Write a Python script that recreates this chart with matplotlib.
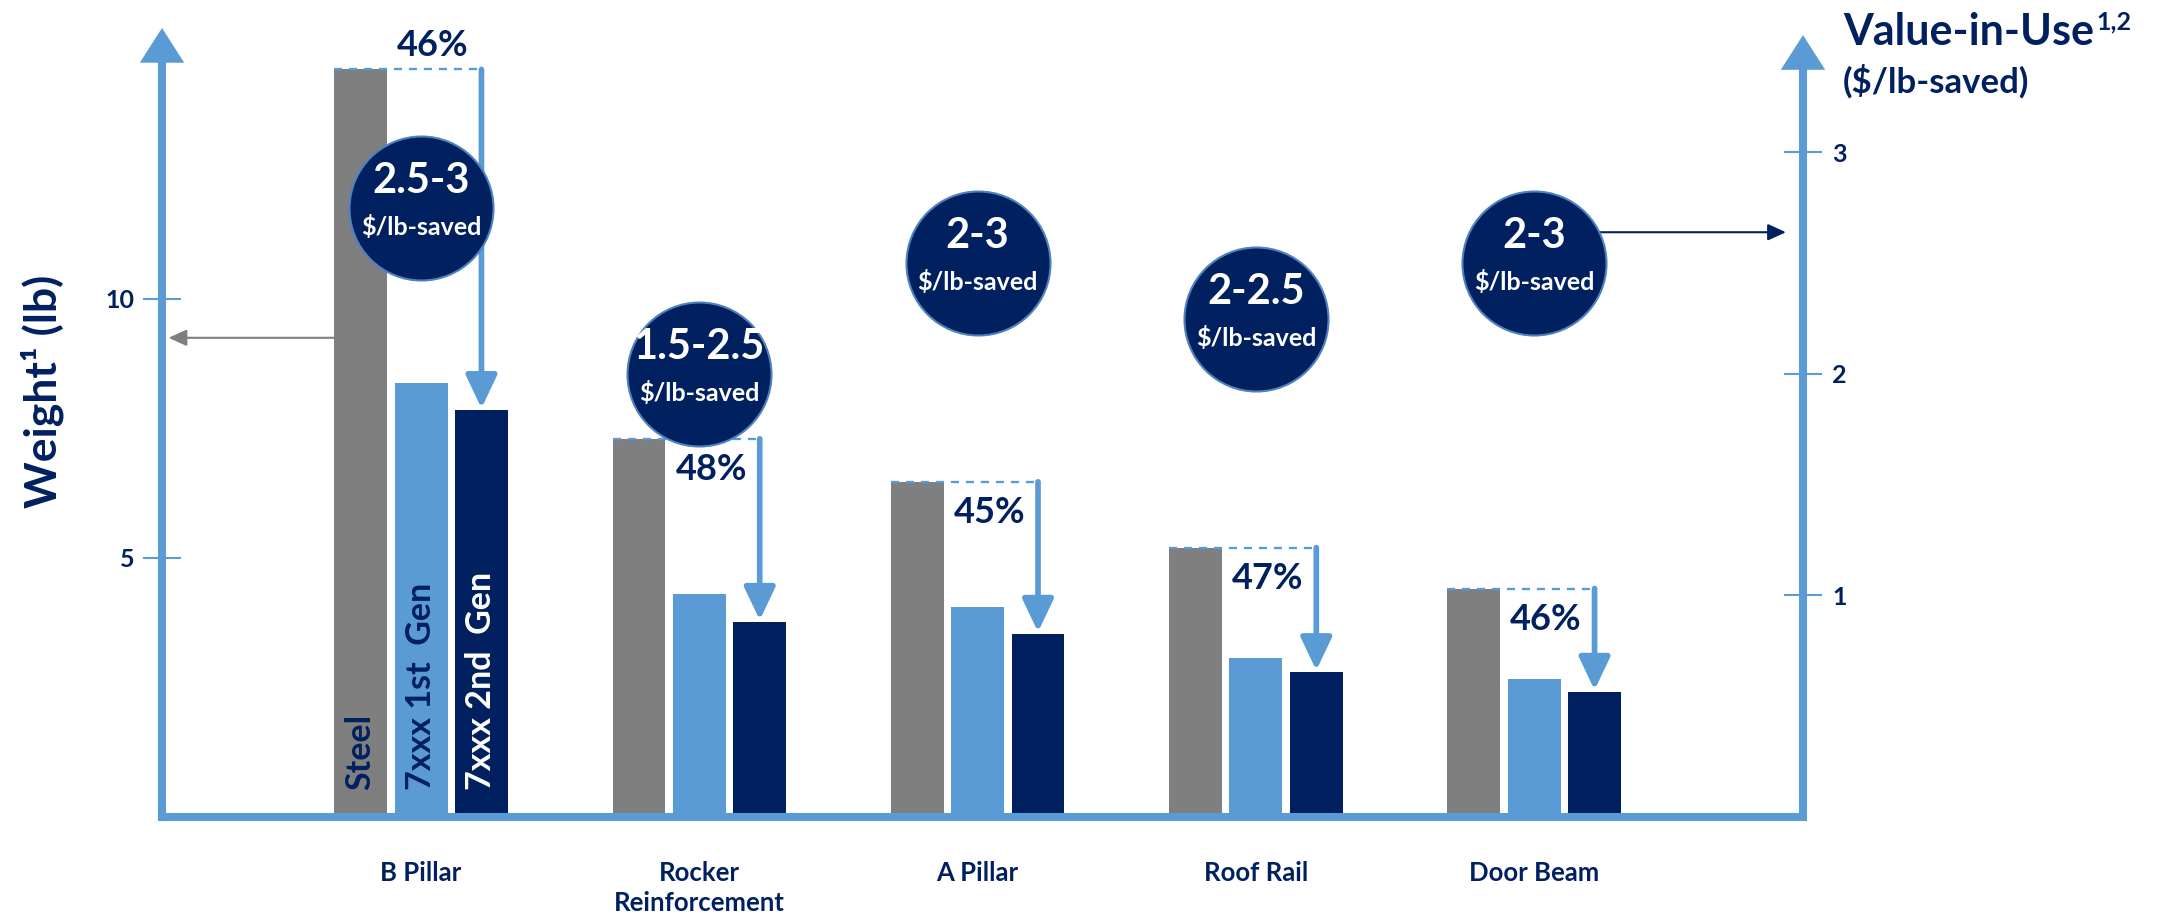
import numpy as np
import matplotlib
matplotlib.use("Agg")
import matplotlib.pyplot as plt

# fonts: Lato bold as stand-in for Calibri bold
plt.rcParams['font.family'] = ['Lato', 'DejaVu Sans']
plt.rcParams['font.weight'] = 'bold'

# data
parts = ["B Pillar", "Rocker\nReinforcement", "A Pillar", "Roof Rail", "Door Beam"]
steel = [14.43, 7.30, 6.47, 5.20, 4.41]
gen1 = [8.38, 4.30, 4.05, 3.06, 2.66]
gen2 = [7.85, 3.76, 3.53, 2.79, 2.41]
savings = ["46%", "48%", "45%", "47%", "46%"]
viu_low = [2.5, 1.5, 2, 2, 2]
viu_high = [3, 2.5, 3, 2.5, 3]
series_names = ["Steel", "7xxx 1st  Gen", "7xxx 2nd  Gen"]
label_above = [True, False, False, False, False]

GRAY = '#7F7F7F'
LBLUE = '#5B9BD5'
NAVY = '#002060'

W, H = 2174, 918
fig = plt.figure(figsize=(W / 100, H / 100), dpi=100)
ax = fig.add_axes([162 / W, 1 - 817 / H, (1803 - 162) / W, (817 - 28) / H])
ax2 = ax.twinx()

ax.set_xlim(-0.931, 4.966)
ax.set_ylim(0, 15.23)
ax2.set_ylim(0, 3.562)

x = np.arange(len(parts))
w = 0.19
off = 0.217

# bars
ax.bar(x - off, steel, w, color=GRAY, zorder=2)
ax.bar(x, gen1, w, color=LBLUE, zorder=2)
ax.bar(x + off, gen2, w, color=NAVY, zorder=2)

# spines / axes look
for s in ['top', 'right']:
    ax.spines[s].set_visible(False)
for s in ['top', 'left', 'bottom']:
    ax2.spines[s].set_visible(False)
for sp in [ax.spines['left'], ax.spines['bottom'], ax2.spines['right']]:
    sp.set_color(LBLUE)
    sp.set_linewidth(5.8)
    sp.set_zorder(3)
ax.spines['left'].set_bounds(0, 14.6)
ax2.spines['right'].set_bounds(0, 3.40)

# ticks
ax.set_yticks([5, 10])
ax.tick_params(axis='y', direction='inout', length=27, width=1.5, color=LBLUE,
               labelcolor=NAVY, labelsize=18, pad=6)
ax.set_xticks(x, parts)
ax.tick_params(axis='x', length=0, pad=32, labelsize=18.5, labelcolor=NAVY)
for lbl in ax.get_xticklabels():
    lbl.set_linespacing(1.29)
ax2.set_yticks([1, 2, 3])
ax2.tick_params(axis='y', direction='inout', length=28, width=1.5, color=LBLUE,
                labelcolor=NAVY, labelsize=18, pad=7)

# arrow heads on the axes
ax.annotate('', xy=(0, 1), xytext=(0, 0.9), xycoords='axes fraction',
            arrowprops=dict(arrowstyle='-|>,head_length=25,head_width=16', mutation_scale=1,
                            lw=0, color=LBLUE, shrinkA=0, shrinkB=0),
            annotation_clip=False, zorder=4)
ax2.annotate('', xy=(1, 3.53), xytext=(1, 3.2), xycoords=ax2.get_yaxis_transform(),
             arrowprops=dict(arrowstyle='-|>,head_length=25,head_width=16', mutation_scale=1,
                             lw=0, color=LBLUE, shrinkA=0, shrinkB=0),
             annotation_clip=False, zorder=4)

# savings: dashed line + down arrow + percent
for i in range(len(parts)):
    xs = i - off - w / 2
    xa = i + off
    ax.plot([xs, xa], [steel[i], steel[i]], ls=(0, (3.5, 3)), lw=1.66, color=LBLUE, zorder=3)
    ax.annotate('', xy=(xa, gen2[i]), xytext=(xa, steel[i]),
                arrowprops=dict(arrowstyle='-|>,head_length=20,head_width=9.5', mutation_scale=1,
                                lw=4.1, color=LBLUE, shrinkA=0, shrinkB=1.5), zorder=3)
    dy = 17 if label_above[i] else -22
    ax.annotate(savings[i], xy=(i + 0.043, steel[i]), xytext=(0, dy), textcoords='offset points',
                ha='center', va='center', fontsize=26, color=NAVY, zorder=4)

# series names inside the B Pillar bars
for k, (name, col) in enumerate(zip(series_names, [NAVY, NAVY, 'white'])):
    ax.annotate(name, xy=(0 + (k - 1) * off, 0), xytext=(0, 19.4), textcoords='offset points',
                rotation=90, rotation_mode='anchor', ha='left', va='center',
                fontsize=24.5, color=col, zorder=4)

# value-in-use bubbles on the right axis
mid = [(lo + hi) / 2 for lo, hi in zip(viu_low, viu_high)]
ax2.scatter(x, mid, s=10750, color=NAVY, edgecolors='#4F81BD', linewidths=1.5, zorder=5)
for i in range(len(parts)):
    ax2.annotate(f"{viu_low[i]:g}-{viu_high[i]:g}", xy=(i, mid[i]), xytext=(0, 19.5),
                 textcoords='offset points', ha='center', va='center', fontsize=30,
                 color='white', zorder=6)
    ax2.annotate("$/lb-saved", xy=(i, mid[i]), xytext=(0, -13.7),
                 textcoords='offset points', ha='center', va='center', fontsize=18,
                 color='white', zorder=6)

# pointer arrows to each axis
ax.annotate('', xy=(0.004, 9.25), xycoords=('axes fraction', 'data'),
            xytext=(-off - w / 2, 9.25), textcoords='data',
            arrowprops=dict(arrowstyle='-|>,head_length=11,head_width=5', mutation_scale=1,
                            lw=1.5, color=GRAY, shrinkA=0, shrinkB=0), zorder=4)
ax2.annotate('', xy=(0.9896, 2.64), xycoords=('axes fraction', 'data'),
             xytext=(4.21, 2.64), textcoords='data',
             arrowprops=dict(arrowstyle='-|>,head_length=11,head_width=5', mutation_scale=1,
                             lw=1.5, color=NAVY, shrinkA=0, shrinkB=0), zorder=4)

# axis titles
fig.text(42 / W, 1 - 391 / H, 'Weight\u00b9 (lb)', rotation=90, ha='center', va='center',
         fontsize=32, color=NAVY)
t = fig.text(1843 / W, 1 - 45 / H, 'Value-in-Use', ha='left', va='baseline',
             fontsize=31, color=NAVY)
ax.annotate('1,2', xy=(1, 0), xycoords=t, xytext=(2, 16), textcoords='offset points',
            ha='left', va='baseline', fontsize=18, color=NAVY, annotation_clip=False)
fig.text(1843 / W, 1 - 93 / H, '($/lb-saved)', ha='left', va='baseline', fontsize=25, color=NAVY)

fig.savefig('out.png', dpi=100)
